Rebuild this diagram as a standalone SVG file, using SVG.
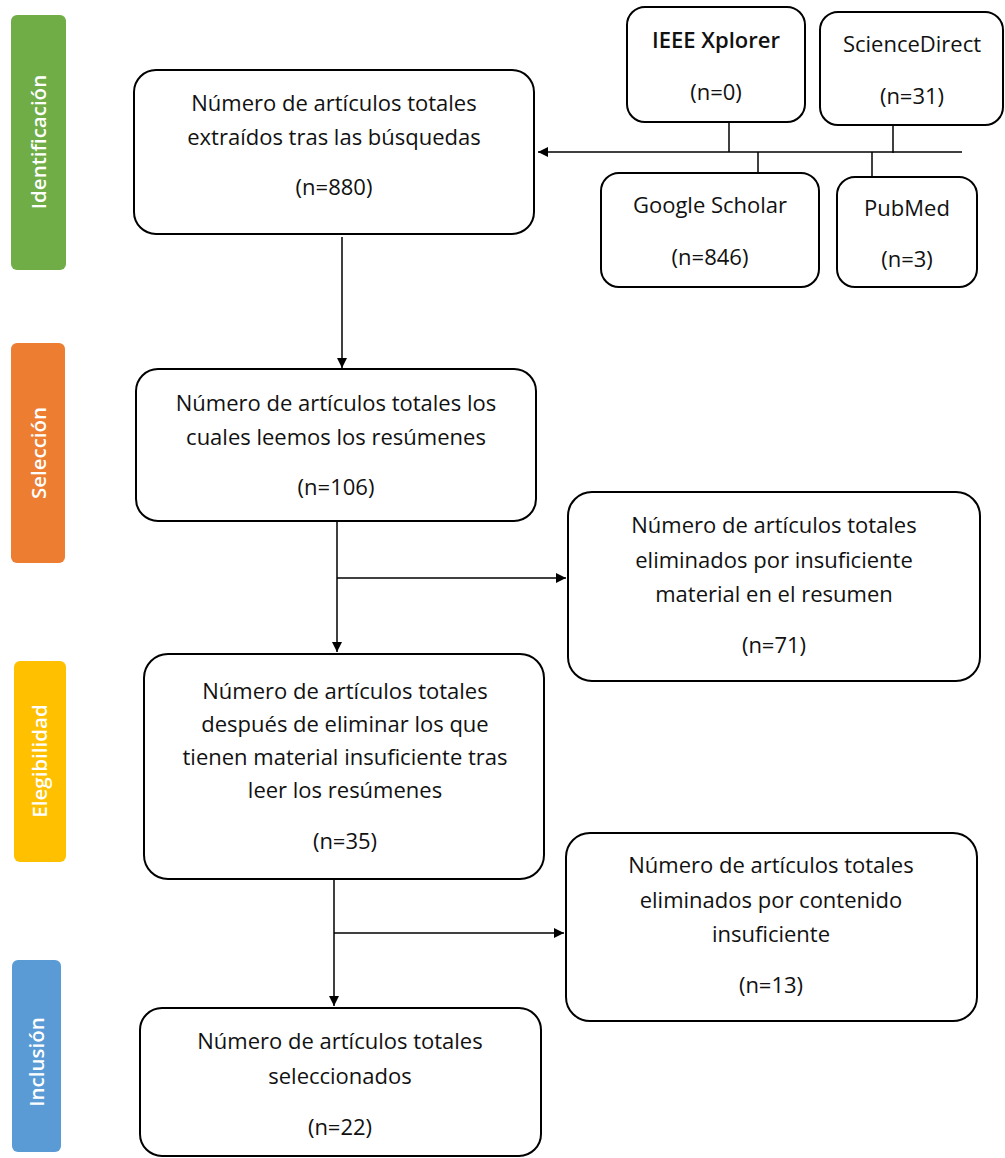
<svg xmlns="http://www.w3.org/2000/svg" width="1005" height="1158" viewBox="0 0 1005 1158">
<style>
.box{fill:#fff;stroke:#000;stroke-width:2}
.t{font-family:"Open Sans","Liberation Sans",sans-serif;font-size:22px;fill:#111;text-anchor:middle}
.b{font-weight:600}
.side{font-family:"Open Sans","Liberation Sans",sans-serif;font-size:20.5px;font-weight:600;fill:#fff;text-anchor:middle}
.ln{stroke:#000;stroke-width:1.5;fill:none}
</style>
<defs>
<marker id="ah" viewBox="0 0 10 10" refX="10" refY="5" markerWidth="10" markerHeight="10" markerUnits="userSpaceOnUse" orient="auto">
<path d="M0,0 L10,5 L0,10 Z" fill="#000"/>
</marker>
</defs>
<rect width="1005" height="1158" fill="#fff"/>

<g id="phase-identificacion">
<rect x="11" y="15" width="55" height="255" rx="6" fill="#70AD47"/>
<text class="side" transform="translate(46,142) rotate(-90)">Identificación</text>
</g>
<g id="phase-seleccion">
<rect x="11" y="343" width="54" height="220" rx="6" fill="#ED7D31"/>
<text class="side" transform="translate(46,453) rotate(-90)">Selección</text>
</g>
<g id="phase-elegibilidad">
<rect x="14" y="661" width="52" height="201" rx="6" fill="#FFC000"/>
<text class="side" transform="translate(47,761) rotate(-90)">Elegibilidad</text>
</g>
<g id="phase-inclusion">
<rect x="12" y="960" width="49" height="192" rx="6" fill="#5B9BD5"/>
<text class="side" transform="translate(44,1062) rotate(-90)">Inclusión</text>
</g>

<g id="connectors">
<line class="ln" x1="962" y1="152" x2="538" y2="152" marker-end="url(#ah)"/>
<line class="ln" x1="729" y1="122" x2="729" y2="152"/>
<line class="ln" x1="893" y1="125" x2="893" y2="153"/>
<line class="ln" x1="758" y1="152" x2="758" y2="174"/>
<line class="ln" x1="872" y1="152" x2="872" y2="178"/>
<line class="ln" x1="342" y1="237" x2="342" y2="368" marker-end="url(#ah)"/>
<line class="ln" x1="337" y1="521" x2="337" y2="652" marker-end="url(#ah)"/>
<line class="ln" x1="337" y1="578" x2="566" y2="578" marker-end="url(#ah)"/>
<line class="ln" x1="334" y1="879" x2="334" y2="1006" marker-end="url(#ah)"/>
<line class="ln" x1="334" y1="933" x2="564" y2="933" marker-end="url(#ah)"/>
</g>

<g id="n-total">
<rect class="box" x="134" y="70" width="400" height="164" rx="22"/>
<text class="t" x="334" y="111">Número de artículos totales</text>
<text class="t" x="334" y="145">extraídos tras las búsquedas</text>
<text class="t" x="334" y="195">(n=880)</text>
</g>
<g id="n-ieee">
<rect class="box" x="627" y="7" width="178" height="115" rx="18"/>
<text class="t b" x="716" y="48">IEEE Xplorer</text>
<text class="t" x="716" y="100">(n=0)</text>
</g>
<g id="n-sciencedirect">
<rect class="box" x="820" y="12" width="183" height="113" rx="18"/>
<text class="t" x="912" y="52">ScienceDirect</text>
<text class="t" x="912" y="104">(n=31)</text>
</g>
<g id="n-scholar">
<rect class="box" x="601" y="173" width="218" height="114" rx="18"/>
<text class="t" x="710" y="213">Google Scholar</text>
<text class="t" x="710" y="265">(n=846)</text>
</g>
<g id="n-pubmed">
<rect class="box" x="837" y="177" width="140" height="110" rx="18"/>
<text class="t" x="907" y="216">PubMed</text>
<text class="t" x="907" y="267">(n=3)</text>
</g>
<g id="n-resumenes">
<rect class="box" x="136" y="369" width="400" height="152" rx="22"/>
<text class="t" x="336" y="411">Número de artículos totales los</text>
<text class="t" x="336" y="445">cuales leemos los resúmenes</text>
<text class="t" x="336" y="495">(n=106)</text>
</g>
<g id="n-elim1">
<rect class="box" x="568" y="492" width="412" height="189" rx="24"/>
<text class="t" x="774" y="533">Número de artículos totales</text>
<text class="t" x="774" y="568">eliminados por insuficiente</text>
<text class="t" x="774" y="602">material en el resumen</text>
<text class="t" x="774" y="653">(n=71)</text>
</g>
<g id="n-eleg">
<rect class="box" x="144" y="654" width="400" height="225" rx="24"/>
<text class="t" x="345" y="699">Número de artículos totales</text>
<text class="t" x="345" y="732">después de eliminar los que</text>
<text class="t" x="345" y="765">tienen material insuficiente tras</text>
<text class="t" x="345" y="798">leer los resúmenes</text>
<text class="t" x="345" y="849">(n=35)</text>
</g>
<g id="n-elim2">
<rect class="box" x="566" y="833" width="411" height="188" rx="24"/>
<text class="t" x="771" y="873">Número de artículos totales</text>
<text class="t" x="771" y="908">eliminados por contenido</text>
<text class="t" x="771" y="942">insuficiente</text>
<text class="t" x="771" y="993">(n=13)</text>
</g>
<g id="n-final">
<rect class="box" x="140" y="1008" width="401" height="148" rx="22"/>
<text class="t" x="340" y="1049">Número de artículos totales</text>
<text class="t" x="340" y="1084">seleccionados</text>
<text class="t" x="340" y="1135">(n=22)</text>
</g>
</svg>
